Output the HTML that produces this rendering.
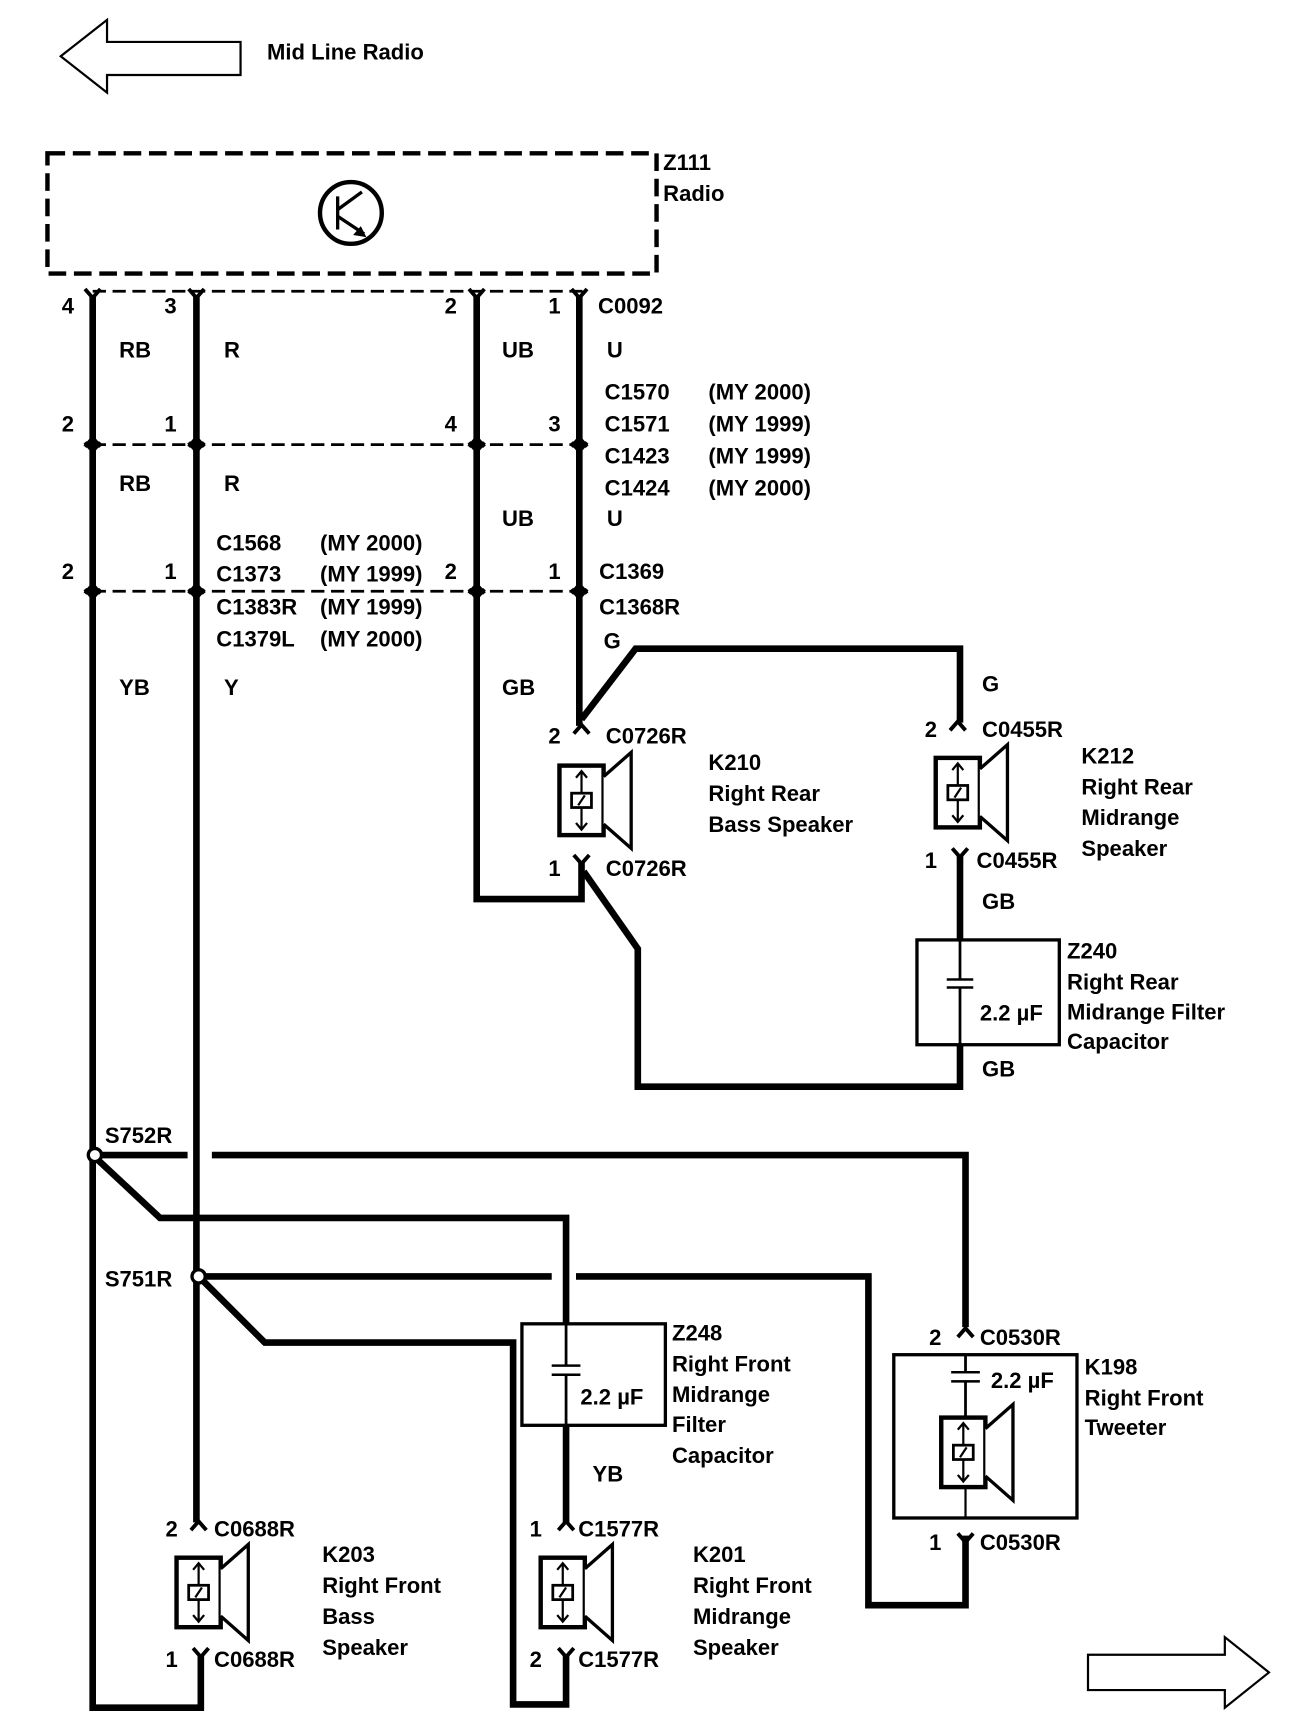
<!DOCTYPE html>
<html><head><meta charset="utf-8"><style>
html,body{margin:0;padding:0;background:#fff;}
svg{display:block;}
text{font-family:"Liberation Sans",sans-serif;font-weight:bold;font-size:20px;fill:#000;}
</style></head><body>
<svg width="1312" height="1732" viewBox="0 0 1189 1570" preserveAspectRatio="none" xmlns="http://www.w3.org/2000/svg">
<defs>
<g id="spk">
<rect x="-20" y="0" width="40" height="63" fill="#fff" stroke="#000" stroke-width="4"/>
<path d="M20,10 L45,-12 L45,75 L20,53" fill="#fff" stroke="#000" stroke-width="3"/>
<path d="M0,5 V58 M-5,11 L0,5 L5,11 M-5,52 L0,58 L5,52" fill="none" stroke="#000" stroke-width="2"/>
<rect x="-9" y="25" width="18" height="13" fill="#fff" stroke="#000" stroke-width="2.5"/>
<path d="M-3,36 L3,27" stroke="#000" stroke-width="2"/>
</g>
<path id="fork" d="M-7,-6 L0,2 L7,-6" fill="none" stroke="#000" stroke-width="3.5"/>
<path id="forku" d="M-7,6 L0,-2 L7,6" fill="none" stroke="#000" stroke-width="3.5"/>
</defs>

<polygon points="55,51 97,18 97,38 218,38 218,68 97,68 97,84" fill="#fff" stroke="#000" stroke-width="2"/>
<text x="242" y="54">Mid Line Radio</text>

<rect x="43" y="139" width="552" height="109" fill="none" stroke="#000" stroke-width="4" stroke-dasharray="16,7"/>
<text x="601" y="154">Z111</text>
<text x="601" y="182">Radio</text>
<circle cx="318" cy="193" r="28" fill="none" stroke="#000" stroke-width="4"/>
<path d="M306,178 V208 M306,196 L330,212 M306,190 L328,174" stroke="#000" stroke-width="3" fill="none"/>
<polygon points="332,215 320,213 327,205" fill="#000"/>

<g stroke="#000" stroke-width="2.5" stroke-dasharray="12,6" fill="none">
<line x1="84" y1="264" x2="528" y2="264"/>
<line x1="84" y1="403" x2="528" y2="403"/>
<line x1="84" y1="536" x2="528" y2="536"/>
</g>

<g stroke="#000" stroke-width="6" fill="none" stroke-linejoin="miter">
<path d="M84,268 V1548 H182 V1500"/>
<path d="M178,268 V1380"/>
<path d="M432,268 V815 H527 V782"/>
<path d="M525,268 V658"/>
<path d="M527,652 L576,588 H870 V655"/>
<path d="M529,790 L578,860 V985 H870 V948"/>
<path d="M870,775 V852"/>
<path d="M84,1047 H170 M192,1047 H875 V1203"/>
<path d="M84,1047 L145,1104 H513 V1200"/>
<path d="M180,1157 H500 M522,1157 H787 V1455 H875 V1392"/>
<path d="M180,1157 L240,1217 H465 V1545 H513 V1500"/>
<path d="M513,1292 V1380"/>
</g>
<g>
<use href="#fork" x="84" y="268"/><use href="#fork" x="178" y="268"/><use href="#fork" x="432" y="268"/><use href="#fork" x="525" y="268"/>
<use href="#forku" x="84" y="399"/><use href="#forku" x="178" y="399"/><use href="#forku" x="432" y="399"/><use href="#forku" x="525" y="399"/>
<use href="#fork" x="84" y="407"/><use href="#fork" x="178" y="407"/><use href="#fork" x="432" y="407"/><use href="#fork" x="525" y="407"/>
<use href="#forku" x="84" y="532"/><use href="#forku" x="178" y="532"/><use href="#forku" x="432" y="532"/><use href="#forku" x="525" y="532"/>
<use href="#fork" x="84" y="540"/><use href="#fork" x="178" y="540"/><use href="#fork" x="432" y="540"/><use href="#fork" x="525" y="540"/>
<use href="#forku" x="527" y="659"/><use href="#fork" x="527" y="781"/>
<use href="#forku" x="868" y="656"/><use href="#fork" x="870" y="775"/>
<use href="#forku" x="875" y="1206"/><use href="#fork" x="875" y="1396"/>
<use href="#forku" x="180" y="1381"/><use href="#fork" x="182" y="1500"/>
<use href="#forku" x="513" y="1381"/><use href="#fork" x="513" y="1500"/>
</g>
<circle cx="86" cy="1047" r="6" fill="#fff" stroke="#000" stroke-width="3"/>
<circle cx="180" cy="1157" r="6" fill="#fff" stroke="#000" stroke-width="3"/>

<use href="#spk" x="527" y="694"/>
<use href="#spk" x="868" y="687"/>
<use href="#spk" x="180" y="1412"/>
<use href="#spk" x="510" y="1412"/>

<rect x="831" y="852" width="129" height="95" fill="#fff" stroke="#000" stroke-width="3"/>
<path d="M870,852 V947 M858,888 H882 M858,895 H882" stroke="#000" stroke-width="2.5" fill="#fff"/>
<rect x="858" y="889" width="24" height="5" fill="#fff"/>
<text x="888" y="925">2.2 µF</text>
<rect x="473" y="1200" width="130" height="92" fill="#fff" stroke="#000" stroke-width="3"/>
<path d="M513,1200 V1292 M500,1238 H526 M500,1246 H526" stroke="#000" stroke-width="2.5"/>
<rect x="500" y="1239" width="26" height="6" fill="#fff"/>
<text x="526" y="1273">2.2 µF</text>
<rect x="810" y="1228" width="166" height="148" fill="#fff" stroke="#000" stroke-width="3"/>
<path d="M875,1228 V1285 M862,1244 H888 M862,1252 H888" stroke="#000" stroke-width="2.5"/>
<rect x="862" y="1245" width="26" height="6" fill="#fff"/>
<path d="M875,1345 V1376" stroke="#000" stroke-width="2"/>
<use href="#spk" x="873" y="1285"/>
<text x="898" y="1258">2.2 µF</text>

<polygon points="986,1500 1110,1500 1110,1484 1150,1516 1110,1548 1110,1532 986,1532" fill="#fff" stroke="#000" stroke-width="2"/>

<text x="56" y="284">4</text><text x="149" y="284">3</text><text x="403" y="284">2</text><text x="497" y="284">1</text><text x="542" y="284">C0092</text>
<text x="108" y="324">RB</text><text x="203" y="324">R</text><text x="455" y="324">UB</text><text x="550" y="324">U</text>
<text x="548" y="362">C1570</text><text x="642" y="362">(MY 2000)</text>
<text x="56" y="391">2</text><text x="149" y="391">1</text><text x="403" y="391">4</text><text x="497" y="391">3</text>
<text x="548" y="391">C1571</text><text x="642" y="391">(MY 1999)</text>
<text x="548" y="420">C1423</text><text x="642" y="420">(MY 1999)</text>
<text x="548" y="449">C1424</text><text x="642" y="449">(MY 2000)</text>
<text x="108" y="445">RB</text><text x="203" y="445">R</text>
<text x="455" y="477">UB</text><text x="550" y="477">U</text>
<text x="196" y="499">C1568</text><text x="290" y="499">(MY 2000)</text>
<text x="196" y="527">C1373</text><text x="290" y="527">(MY 1999)</text>
<text x="56" y="525">2</text><text x="149" y="525">1</text><text x="403" y="525">2</text><text x="497" y="525">1</text>
<text x="543" y="525">C1369</text><text x="543" y="557">C1368R</text><text x="547" y="588">G</text>
<text x="196" y="557">C1383R</text><text x="290" y="557">(MY 1999)</text>
<text x="196" y="586">C1379L</text><text x="290" y="586">(MY 2000)</text>
<text x="108" y="630">YB</text><text x="203" y="630">Y</text><text x="455" y="630">GB</text>
<text x="890" y="627">G</text>
<text x="497" y="674">2</text><text x="549" y="674">C0726R</text>
<text x="497" y="794">1</text><text x="549" y="794">C0726R</text>
<text x="642" y="698">K210</text><text x="642" y="726">Right Rear</text><text x="642" y="754">Bass Speaker</text>
<text x="838" y="668">2</text><text x="890" y="668">C0455R</text>
<text x="838" y="787">1</text><text x="885" y="787">C0455R</text>
<text x="980" y="692">K212</text><text x="980" y="720">Right Rear</text><text x="980" y="748">Midrange</text><text x="980" y="776">Speaker</text>
<text x="890" y="824">GB</text>
<text x="967" y="869">Z240</text><text x="967" y="897">Right Rear</text><text x="967" y="924">Midrange Filter</text><text x="967" y="951">Capacitor</text>
<text x="890" y="976">GB</text>
<text x="95" y="1036">S752R</text>
<text x="95" y="1166">S751R</text>
<text x="609" y="1215">Z248</text><text x="609" y="1243">Right Front</text><text x="609" y="1271">Midrange</text><text x="609" y="1298">Filter</text><text x="609" y="1326">Capacitor</text>
<text x="537" y="1343">YB</text>
<text x="842" y="1219">2</text><text x="888" y="1219">C0530R</text>
<text x="842" y="1405">1</text><text x="888" y="1405">C0530R</text>
<text x="983" y="1246">K198</text><text x="983" y="1274">Right Front</text><text x="983" y="1301">Tweeter</text>
<text x="150" y="1393">2</text><text x="194" y="1393">C0688R</text>
<text x="150" y="1511">1</text><text x="194" y="1511">C0688R</text>
<text x="292" y="1416">K203</text><text x="292" y="1444">Right Front</text><text x="292" y="1472">Bass</text><text x="292" y="1500">Speaker</text>
<text x="480" y="1393">1</text><text x="524" y="1393">C1577R</text>
<text x="480" y="1511">2</text><text x="524" y="1511">C1577R</text>
<text x="628" y="1416">K201</text><text x="628" y="1444">Right Front</text><text x="628" y="1472">Midrange</text><text x="628" y="1500">Speaker</text>
</svg>
</body></html>
